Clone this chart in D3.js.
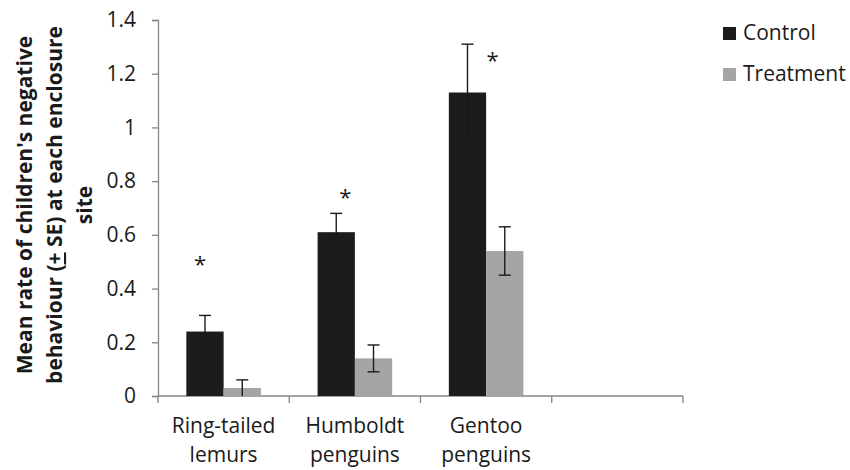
<!DOCTYPE html>
<html>
<head>
<meta charset="utf-8">
<script src="https://cdn.jsdelivr.net/npm/d3@7"></script>
<style>
  body { margin: 0; background: #fff; }
  svg { display: block; font-family: "Open Sans", sans-serif; }
</style>
</head>
<body>
<svg id="chart" width="850" height="470"></svg>
<script>
// data
const categories = ["Ring-tailed lemurs", "Humboldt penguins", "Gentoo penguins", ""];
const series = ["Control", "Treatment"];
const controlMean = [0.24, 0.61, 1.13];
const controlSE = [0.06, 0.07, 0.18];
const treatmentMean = [0.03, 0.14, 0.54];
const treatmentSE = [0.03, 0.05, 0.09];
const sigMarks = ["*", "*", "*"];     // significance marks over the control bars
const sigLevel = [0.505, 0.755, 1.265];
const yTicks = [0, 0.2, 0.4, 0.6, 0.8, 1, 1.2, 1.4];

const colors = { Control: "#1c1c1c", Treatment: "#a5a5a5" };
const sigDx = [-5, 9, 25];

const svg = d3.select("#chart");
const margin = { left: 158, right: 167, top: 20, bottom: 74 };
const W = 850, H = 470;

const x0 = d3.scaleBand()
    .domain(categories)
    .range([margin.left, W - margin.right])
    .paddingInner(0).paddingOuter(0);

const x1 = d3.scaleBand()
    .domain(series)
    .range([0, x0.bandwidth()])
    .paddingInner(0).paddingOuter(0.76);

const y = d3.scaleLinear()
    .domain([0, 1.4])
    .range([H - margin.bottom, margin.top]);

const axisColor = "#868686";

// y axis
const yAxis = svg.append("g")
    .attr("transform", `translate(${margin.left},0)`)
    .call(d3.axisLeft(y).tickValues(yTicks).tickSize(6).tickPadding(16)
        .tickFormat(d => String(+d.toFixed(1))));
yAxis.selectAll("path, line").attr("stroke", axisColor).attr("stroke-width", 1.3);
yAxis.selectAll("text").attr("font-size", 21).attr("fill", "#1a1a1a")
    .attr("font-family", "Open Sans, sans-serif");

// x axis: line with ticks at band edges
const xg = svg.append("g");
const y0 = y(0);
xg.append("line")
    .attr("x1", x0.range()[0]).attr("x2", x0.range()[1])
    .attr("y1", y0).attr("y2", y0)
    .attr("stroke", axisColor).attr("stroke-width", 1.3);
const edges = categories.map(c => x0(c)).concat([x0.range()[1]]);
xg.selectAll("line.tick").data(edges).join("line")
    .attr("class", "tick")
    .attr("x1", d => d).attr("x2", d => d)
    .attr("y1", y0).attr("y2", y0 + 7)
    .attr("stroke", axisColor).attr("stroke-width", 1.3);

// category labels (two lines)
const labels = xg.selectAll("text.cat").data(categories.filter(c => c)).join("text")
    .attr("class", "cat")
    .attr("x", d => x0(d) + x0.bandwidth() / 2)
    .attr("text-anchor", "middle")
    .attr("font-size", 21)
    .attr("fill", "#1a1a1a");
labels.each(function (d) {
    const parts = d.split(" ");
    const t = d3.select(this);
    parts.forEach((p, i) => {
        t.append("tspan")
            .attr("x", x0(d) + x0.bandwidth() / 2)
            .attr("y", 433 + i * 29)
            .text(p);
    });
});

// bars
const rows = categories.filter(c => c).map((c, i) => ({
    cat: c,
    vals: [
        { s: "Control", v: controlMean[i], se: controlSE[i] },
        { s: "Treatment", v: treatmentMean[i], se: treatmentSE[i] }
    ]
}));

const groups = svg.selectAll("g.grp").data(rows).join("g")
    .attr("class", "grp")
    .attr("transform", d => `translate(${x0(d.cat)},0)`);

groups.selectAll("rect").data(d => d.vals).join("rect")
    .attr("x", d => x1(d.s))
    .attr("width", x1.bandwidth())
    .attr("y", d => y(d.v))
    .attr("height", d => y(0) - y(d.v))
    .attr("fill", d => colors[d.s]);

// error bars
const capW = 6;
const eb = groups.selectAll("g.err").data(d => d.vals).join("g")
    .attr("class", "err")
    .attr("stroke", "#1a1a1a").attr("stroke-width", 1.4);
eb.append("line")
    .attr("x1", d => x1(d.s) + x1.bandwidth() / 2)
    .attr("x2", d => x1(d.s) + x1.bandwidth() / 2)
    .attr("y1", d => y(d.v + d.se))
    .attr("y2", d => y(Math.max(0, d.v - d.se)));
eb.append("line")
    .attr("x1", d => x1(d.s) + x1.bandwidth() / 2 - capW)
    .attr("x2", d => x1(d.s) + x1.bandwidth() / 2 + capW)
    .attr("y1", d => y(d.v + d.se)).attr("y2", d => y(d.v + d.se));
eb.filter(d => d.v - d.se > 0).append("line")
    .attr("x1", d => x1(d.s) + x1.bandwidth() / 2 - capW)
    .attr("x2", d => x1(d.s) + x1.bandwidth() / 2 + capW)
    .attr("y1", d => y(d.v - d.se)).attr("y2", d => y(d.v - d.se));

// significance asterisks
svg.selectAll("text.sig").data(sigMarks).join("text")
    .attr("class", "sig")
    .attr("x", (d, i) => x0(categories[i]) + x1("Control") + x1.bandwidth() / 2 + sigDx[i])
    .attr("y", (d, i) => y(sigLevel[i]) + 12)
    .attr("text-anchor", "middle")
    .attr("font-size", 22)
    .attr("fill", "#1a1a1a")
    .text(d => d);

// y axis title
const titleLines = ["Mean rate of children's negative", "behaviour (+ SE) at each enclosure", "site"];
const title = svg.append("text")
    .attr("transform", "translate(0,205) rotate(-90)")
    .attr("text-anchor", "middle")
    .attr("font-size", 21)
    .attr("font-weight", "bold")
    .attr("fill", "#1a1a1a");
titleLines.forEach((l, i) => {
    const ts = title.append("tspan").attr("x", 0).attr("y", 32 + i * 30);
    if (l.includes("+")) {
        const [a, b] = l.split("+");
        ts.append("tspan").text(a);
        ts.append("tspan").attr("text-decoration", "underline").text("+");
        ts.append("tspan").text(b);
    } else {
        ts.text(l);
    }
});

// legend
const legend = svg.selectAll("g.leg").data(series).join("g")
    .attr("class", "leg")
    .attr("transform", (d, i) => `translate(723,${27 + i * 41})`);
legend.append("rect")
    .attr("width", 13).attr("height", 13)
    .attr("fill", d => colors[d]);
legend.append("text")
    .attr("x", 20).attr("y", 13)
    .attr("font-size", 21)
    .attr("fill", "#1a1a1a")
    .text(d => d);
</script>
</body>
</html>
